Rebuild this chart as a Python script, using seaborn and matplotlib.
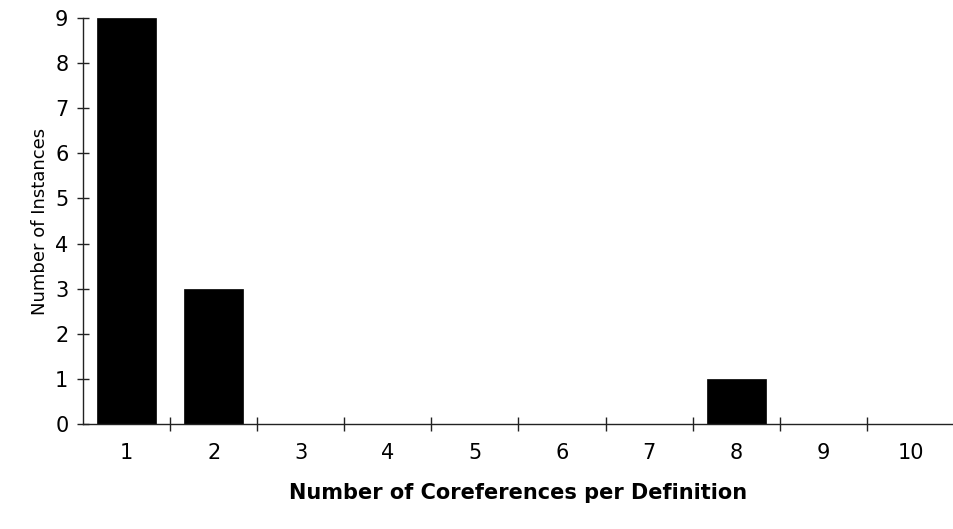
import pandas as pd
import matplotlib
matplotlib.use("Agg")
import matplotlib.pyplot as plt
import seaborn as sns

# Values
coreferences = ["1", "2", "3", "4", "5", "6", "7", "8", "9", "10"]
instances = [9, 3, 0, 0, 0, 0, 0, 1, 0, 0]

df = pd.DataFrame({"coreferences": coreferences, "instances": instances})

sns.set_theme(style="white")
plt.rcParams["font.family"] = ["DejaVu Sans"]
plt.rcParams.update({
    "text.color": "black",
    "axes.labelcolor": "black",
    "xtick.color": "black",
    "ytick.color": "black",
})

fig = plt.figure(figsize=(9.54, 5.29), dpi=100)
ax = fig.add_axes([0.087, 0.1985, 0.913, 0.7675])

sns.barplot(data=df, x="coreferences", y="instances", color="black",
            saturation=1, width=0.68, edgecolor="black", linewidth=0.5, ax=ax)

ax.set_xlim(-0.5, 9.5)
ax.set_ylim(0, 9)
ax.set_yticks(range(0, 10))

# tick marks sit between the categories, labels under the bars
ax.set_xticks([i + 0.5 for i in range(9)], minor=True)
ax.tick_params(axis="x", which="major", bottom=True, length=0, pad=14,
               labelsize=15)
ax.tick_params(axis="x", which="minor", bottom=True, direction="inout",
               length=10, width=1, color="#222222")
ax.tick_params(axis="y", left=True, direction="inout", length=9, width=1,
               color="#222222", labelsize=15, pad=6)

for s in ["top", "right"]:
    ax.spines[s].set_visible(False)
for s in ["left", "bottom"]:
    ax.spines[s].set_color("#222222")
    ax.spines[s].set_linewidth(1)

ax.set_xlabel("Number of Coreferences per Definition", fontsize=15,
              fontweight="bold", labelpad=14)
ax.set_ylabel("Number of Instances", fontsize=13, labelpad=4)

fig.savefig("out.png", dpi=100)
